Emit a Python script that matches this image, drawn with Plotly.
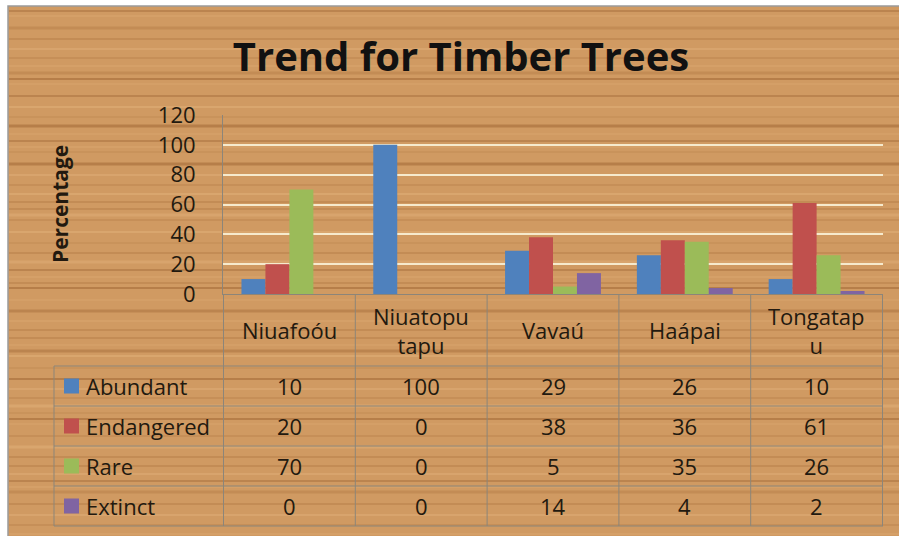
import plotly.graph_objects as go

# ---------------- data ----------------
categories = ["Niuafoóu", "Niuatoputapu", "Vavaú", "Haápai", "Tongatapu"]
category_labels = ["Niuafoóu", "Niuatopu<br>tapu", "Vavaú", "Haápai", "Tongatap<br>u"]
series_names = ["Abundant", "Endangered", "Rare", "Extinct"]
abundant = [10, 100, 29, 26, 10]
endangered = [20, 0, 38, 36, 61]
rare = [70, 0, 5, 35, 26]
extinct = [0, 0, 14, 4, 2]
y_ticks = [0, 20, 40, 60, 80, 100, 120]

series_values = [abundant, endangered, rare, extinct]
colors = ["#4F81BD", "#C0504D", "#9BBB59", "#8064A2"]

# ---------------- layout constants (pixels) ----------------
W, H = 899, 536
PL, PR, PT, PB = 223, 883, 115, 294  # plot area edges
WOOD = "#D09A62"
STREAKS = ["rgba(140,82,35,0.30)", "rgba(235,190,135,0.35)", "rgba(150,90,40,0.22)",
           "rgba(140,82,35,0.38)", "rgba(235,190,135,0.30)"]
GRID = "#F6EACD"
LINE = "#8C8579"
TXT = "#22190F"
FONT = "Open Sans"


def px(p):
    return (p - PL) / (PR - PL)


def py(p):
    return (PB - p) / (PB - PT)


fig = go.Figure()
for name, vals, col in zip(series_names, series_values, colors):
    fig.add_trace(go.Bar(x=categories, y=vals, name=name, marker=dict(color=col, line=dict(width=0)),
                         showlegend=False))

shapes = []
# wooden chart area with grey border
shapes.append(dict(type="rect", xref="paper", yref="paper", layer="below",
                   x0=px(8), x1=px(W + 20), y0=py(H + 20), y1=py(6),
                   fillcolor=WOOD, line=dict(color="#9A9A9A", width=1.5)))
# wood grain streaks (decorative)
widths = [2, 1, 3, 1, 2, 1, 1, 3, 2, 1, 2]
y = 11
k = 0
while y < H:
    shapes.append(dict(type="line", xref="paper", yref="paper", layer="below",
                       x0=px(9), x1=px(W + 5), y0=py(y), y1=py(y),
                       line=dict(color=STREAKS[k % len(STREAKS)], width=widths[k % len(widths)])))
    y += 5 + (k * 7) % 8
    k += 1

# table rows
row_edges = [366, 406, 446, 486, 526]
row_centers = [386, 426, 466, 506]
for ry in row_edges:
    shapes.append(dict(type="line", xref="paper", yref="paper", x0=px(54), x1=px(PR),
                       y0=py(ry), y1=py(ry), line=dict(color=LINE, width=1)))
# legend column left edge
shapes.append(dict(type="line", xref="paper", yref="paper", x0=px(54), x1=px(54),
                   y0=py(row_edges[0]), y1=py(row_edges[-1]), line=dict(color=LINE, width=1)))
# category column boundaries
for i in range(len(categories) + 1):
    shapes.append(dict(type="line", xref="x", yref="paper", x0=i - 0.5, x1=i - 0.5,
                       y0=0, y1=py(row_edges[-1]), line=dict(color=LINE, width=1)))
# legend keys
for rc, col in zip(row_centers, colors):
    shapes.append(dict(type="rect", xref="paper", yref="paper", x0=px(64), x1=px(79),
                       y0=py(rc + 7.5), y1=py(rc - 7.5), fillcolor=col, line=dict(width=0)))

annotations = []
# header category labels
for cat, lab in zip(categories, category_labels):
    annotations.append(dict(x=cat, xref="x", y=py(330), yref="paper", text=lab, showarrow=False,
                            font=dict(family=FONT, size=22, color=TXT), xanchor="center", yanchor="middle"))
# legend labels and values
for rc, name, vals in zip(row_centers, series_names, series_values):
    annotations.append(dict(x=px(84), xref="paper", y=py(rc), yref="paper", text=name, showarrow=False,
                            font=dict(family=FONT, size=22, color=TXT), xanchor="left", yanchor="middle"))
    for cat, v in zip(categories, vals):
        annotations.append(dict(x=cat, xref="x", y=py(rc), yref="paper", text=str(v), showarrow=False,
                                font=dict(family=FONT, size=22, color=TXT), xanchor="center", yanchor="middle"))
# y axis title
annotations.append(dict(x=px(60), xref="paper", y=py(204), yref="paper", text="<b>Percentage</b>",
                        textangle=-90, showarrow=False, font=dict(family=FONT, size=21, color=TXT),
                        xanchor="center", yanchor="middle"))

fig.update_layout(
    width=W, height=H,
    margin=dict(l=PL, r=W - PR, t=PT, b=H - PB, pad=0),
    paper_bgcolor="white",
    plot_bgcolor="rgba(0,0,0,0)",
    barmode="group", bargap=1.5 / 5.5, bargroupgap=0,
    title=dict(text="<b>Trend for Timber Trees</b>", x=461 / W, xref="container", xanchor="center",
               y=1 - 57 / H, yref="container", yanchor="middle",
               font=dict(family=FONT, size=40, color="#111111")),
    xaxis=dict(showticklabels=False, showgrid=False, showline=True, linecolor=LINE, linewidth=1,
               ticks="", zeroline=False),
    yaxis=dict(range=[0, 120], tickvals=y_ticks, showgrid=True, gridcolor=GRID, gridwidth=2,
               showline=True, linecolor=LINE, linewidth=1, zeroline=False,
               ticks="outside", ticklen=22, tickcolor="rgba(0,0,0,0)",
               tickfont=dict(family=FONT, size=22, color=TXT)),
    shapes=shapes,
    annotations=annotations,
)

fig.write_html("out.html", config={"displayModeBar": False},
               post_script="document.body.style.margin='0';document.body.style.overflow='hidden';")
